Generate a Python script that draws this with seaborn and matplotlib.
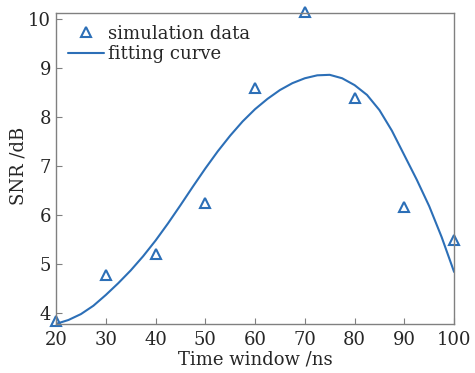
import numpy as np
import pandas as pd
import seaborn as sns
import matplotlib.pyplot as plt

sns.set_style("ticks")
plt.rcParams['font.family'] = ['DejaVu Serif']
plt.rcParams['mathtext.fontset'] = 'dejavuserif'

# %% Data

time_window = [20, 30, 40, 50, 60, 70, 80, 90, 100]
snr_sim = [3.83, 4.78, 5.20, 6.24, 8.59, 10.14, 8.39, 6.16, 5.50]

fit_time = [20, 22.5, 25, 27.5, 30, 32.5, 35, 37.5, 40, 42.5, 45, 47.5, 50,
            52.5, 55, 57.5, 60, 62.5, 65, 67.5, 70, 72.5, 75, 77.5, 80,
            82.5, 85, 87.5, 90, 92.5, 95, 97.5, 100]
fit_snr = [3.78, 3.86, 3.98, 4.15, 4.37, 4.61, 4.87, 5.16, 5.48, 5.83, 6.20,
           6.58, 6.95, 7.30, 7.62, 7.91, 8.16, 8.37, 8.55, 8.69, 8.79, 8.85,
           8.86, 8.79, 8.65, 8.45, 8.14, 7.72, 7.22, 6.72, 6.18, 5.55, 4.84]

sim = pd.DataFrame({'Time': time_window, 'SNR': snr_sim})
fit = pd.DataFrame({'Time': fit_time, 'SNR': fit_snr})

blue = '#2c6fb7'

# %% Plot

fig = plt.figure(figsize=(4.75, 3.73), dpi=100)
ax = fig.add_axes([0.118, 0.131, 0.838, 0.834])

sns.lineplot(data=fit, x='Time', y='SNR', color=blue, linewidth=1.5,
             label='fitting curve', ax=ax)
sns.lineplot(data=sim, x='Time', y='SNR', color=blue, linestyle='none',
             marker='^', markersize=7, markerfacecolor='none',
             markeredgecolor=blue, markeredgewidth=1.5, clip_on=False,
             label='simulation data', ax=ax)

ax.set_xlim(20, 100)
ax.set_ylim(3.775, 10.12)
ax.set_xticks([20, 30, 40, 50, 60, 70, 80, 90, 100])
ax.set_yticks([4, 5, 6, 7, 8, 9, 10])
ax.tick_params(direction='in', length=4, width=0.8, color='#808080',
               labelsize=13, top=False, right=False)
ax.tick_params(axis='x', pad=5)
ax.tick_params(axis='y', pad=3.5)
for s in ax.spines.values():
    s.set_color('#808080')
    s.set_linewidth(1.0)

ax.set_xlabel('Time window /ns', fontsize=13, labelpad=1)
ax.set_ylabel('SNR /dB', fontsize=13)
ax.yaxis.set_label_coords(-0.072, 0.51)

h, l = ax.get_legend_handles_labels()
ax.legend(h[::-1], l[::-1], loc='upper left', frameon=False, fontsize=13,
          handlelength=2.0, handletextpad=0.2, labelspacing=0.15,
          borderaxespad=0.45, borderpad=0.2)

plt.savefig('out.png', dpi=100)
